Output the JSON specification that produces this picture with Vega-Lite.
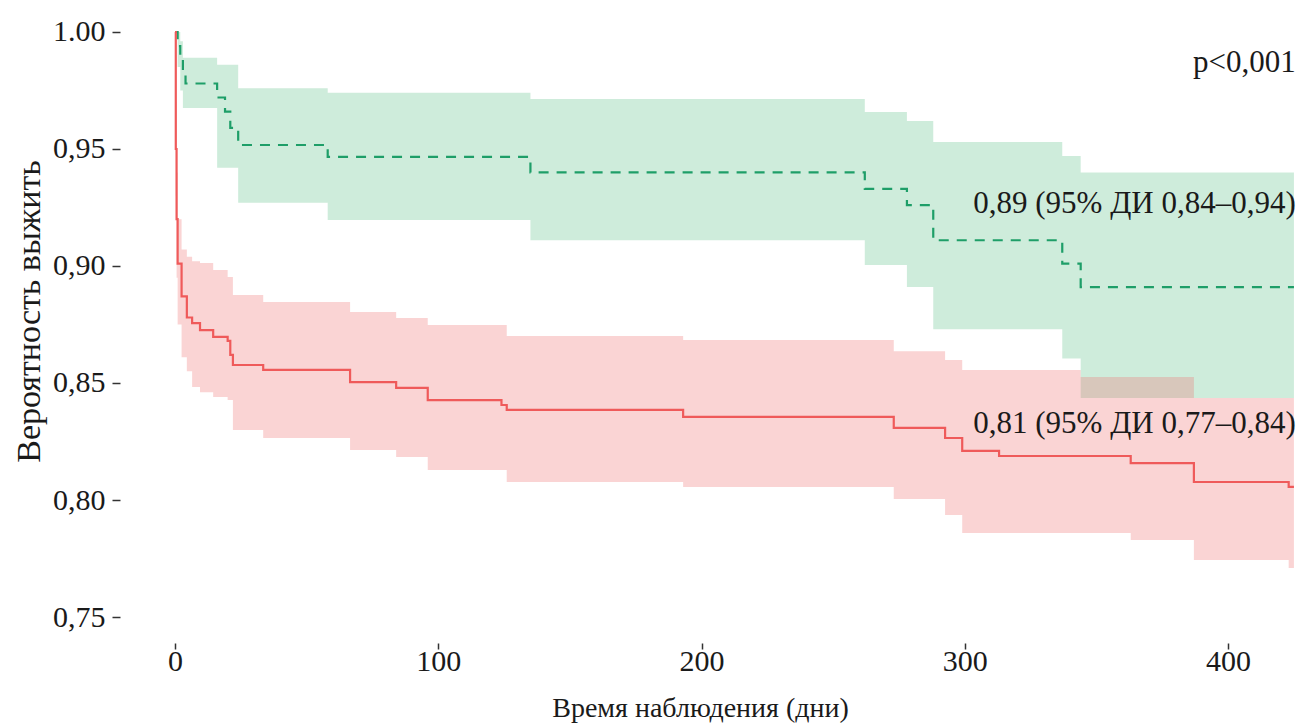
{
  "$schema": "https://vega.github.io/schema/vega-lite/v6.json",
  "width": 1180,
  "height": 623,
  "autosize": {"type": "none"},
  "padding": {"left": 120, "top": 20, "right": 0, "bottom": 81},
  "background": "white",
  "config": {
    "view": {"stroke": null},
    "font": "Liberation Serif, Times New Roman, DejaVu Serif, serif",
    "axis": {"grid": false, "domain": false, "labelFont": "Liberation Serif, Times New Roman, DejaVu Serif, serif", "titleFont": "Liberation Serif, Times New Roman, DejaVu Serif, serif", "labelColor": "#1a1a1a", "titleColor": "#1a1a1a", "tickColor": "#333333", "titleFontWeight": "normal", "labelFontSize": 30, "tickWidth": 1.5},
    "axisX": {"tickSize": 6, "labelPadding": -3, "titleFontSize": 28, "titleX": 580, "titleY": 73, "titleBaseline": "alphabetic", "titleAlign": "center"},
    "axisY": {"tickSize": 8, "labelPadding": 7, "titleFontSize": 34, "titleX": -74, "titleY": 291, "titleAngle": -90, "titleAlign": "center", "titleBaseline": "bottom"}
  },
  "datasets": {
    "green": [
      {"t": 0, "s": 1.0, "lo": 1.0, "hi": 1.0},
      {"t": 1, "s": 0.994, "lo": 0.985, "hi": 1.0},
      {"t": 2, "s": 0.988, "lo": 0.975, "hi": 0.996},
      {"t": 3, "s": 0.983, "lo": 0.9675, "hi": 0.989},
      {"t": 4, "s": 0.978, "lo": 0.9675, "hi": 0.989},
      {"t": 16, "s": 0.972, "lo": 0.942, "hi": 0.986},
      {"t": 19, "s": 0.966, "lo": 0.942, "hi": 0.986},
      {"t": 21, "s": 0.959, "lo": 0.942, "hi": 0.986},
      {"t": 24, "s": 0.9517, "lo": 0.927, "hi": 0.976},
      {"t": 58, "s": 0.9466, "lo": 0.9197, "hi": 0.974},
      {"t": 135, "s": 0.94, "lo": 0.911, "hi": 0.9714},
      {"t": 262, "s": 0.933, "lo": 0.9004, "hi": 0.9658},
      {"t": 278, "s": 0.926, "lo": 0.891, "hi": 0.962},
      {"t": 288, "s": 0.911, "lo": 0.873, "hi": 0.953},
      {"t": 337, "s": 0.901, "lo": 0.8605, "hi": 0.947},
      {"t": 344, "s": 0.891, "lo": 0.8436, "hi": 0.94},
      {"t": 425, "s": 0.891, "lo": 0.8436, "hi": 0.94}
    ],
    "red": [
      {"t": 0, "s": 1.0, "lo": 1.0, "hi": 1.0},
      {"t": 0.3, "s": 0.95, "lo": 0.93, "hi": 0.97},
      {"t": 0.6, "s": 0.92, "lo": 0.895, "hi": 0.94},
      {"t": 1, "s": 0.901, "lo": 0.875, "hi": 0.92},
      {"t": 2.5, "s": 0.887, "lo": 0.861, "hi": 0.907},
      {"t": 4.5, "s": 0.878, "lo": 0.855, "hi": 0.904},
      {"t": 6.5, "s": 0.8756, "lo": 0.8483, "hi": 0.902},
      {"t": 9.5, "s": 0.8726, "lo": 0.846, "hi": 0.9013},
      {"t": 14.5, "s": 0.8697, "lo": 0.844, "hi": 0.8983},
      {"t": 20, "s": 0.868, "lo": 0.8427, "hi": 0.8953},
      {"t": 21, "s": 0.862, "lo": 0.8427, "hi": 0.8953},
      {"t": 22, "s": 0.8577, "lo": 0.8299, "hi": 0.8876},
      {"t": 33.5, "s": 0.8556, "lo": 0.8265, "hi": 0.8846},
      {"t": 66.5, "s": 0.8504, "lo": 0.8214, "hi": 0.8803},
      {"t": 84, "s": 0.8479, "lo": 0.8184, "hi": 0.8778},
      {"t": 96, "s": 0.8427, "lo": 0.8128, "hi": 0.8748},
      {"t": 124, "s": 0.8406, "lo": 0.8128, "hi": 0.8748},
      {"t": 126, "s": 0.8385, "lo": 0.8077, "hi": 0.8701},
      {"t": 193, "s": 0.8355, "lo": 0.8056, "hi": 0.8684},
      {"t": 273, "s": 0.8308, "lo": 0.8004, "hi": 0.8636},
      {"t": 292.5, "s": 0.8265, "lo": 0.7936, "hi": 0.8598},
      {"t": 299, "s": 0.821, "lo": 0.7859, "hi": 0.8556},
      {"t": 313, "s": 0.8188, "lo": 0.7859, "hi": 0.8556},
      {"t": 344, "s": 0.8188, "lo": 0.7859, "hi": 0.8526},
      {"t": 363, "s": 0.8158, "lo": 0.7829, "hi": 0.8526},
      {"t": 387, "s": 0.8077, "lo": 0.7744, "hi": 0.8436},
      {"t": 423, "s": 0.8056, "lo": 0.7709, "hi": 0.8436},
      {"t": 425, "s": 0.8056, "lo": 0.7709, "hi": 0.8436}
    ],
    "notes": [
      {"t": 425.7, "v": 0.9829, "label": "p<0,001"},
      {"t": 425.7, "v": 0.92265, "label": "0,89 (95% ДИ 0,84–0,94)"},
      {"t": 425.7, "v": 0.82863, "label": "0,81 (95% ДИ 0,77–0,84)"}
    ]
  },
  "layer": [
    {
      "data": {"name": "green"},
      "mark": {"type": "area", "interpolate": "step-after", "color": "#5cbf88", "opacity": 0.3},
      "encoding": {
        "x": {"field": "t", "type": "quantitative", "scale": {"domain": [-20.89, 427.3], "zero": false, "nice": false},
          "axis": {"values": [0, 100, 200, 300, 400], "format": "d", "title": "Время наблюдения (дни)"}},
        "y": {"field": "lo", "type": "quantitative", "scale": {"domain": [0.738889, 1.005128], "zero": false, "nice": false},
          "axis": {"values": [0.75, 0.8, 0.85, 0.9, 0.95, 1.0], "labelExpr": "datum.value == 1 ? '1.00' : replace(format(datum.value, '.2f'), '.', ',')", "title": "Вероятность выжить"}},
        "y2": {"field": "hi"}
      }
    },
    {
      "data": {"name": "red"},
      "mark": {"type": "area", "interpolate": "step-after", "color": "#f07070", "opacity": 0.3},
      "encoding": {
        "x": {"field": "t", "type": "quantitative", "axis": {"values": [0, 100, 200, 300, 400], "format": "d", "title": "Время наблюдения (дни)"}},
        "y": {"field": "lo", "type": "quantitative", "axis": {"values": [0.75, 0.8, 0.85, 0.9, 0.95, 1.0], "labelExpr": "datum.value == 1 ? '1.00' : replace(format(datum.value, '.2f'), '.', ',')", "title": "Вероятность выжить"}},
        "y2": {"field": "hi"}
      }
    },
    {
      "data": {"name": "green"},
      "mark": {"type": "line", "interpolate": "step-after", "color": "#1e9e68", "strokeWidth": 2.2, "strokeDash": [10, 8]},
      "encoding": {
        "x": {"field": "t", "type": "quantitative", "axis": {"values": [0, 100, 200, 300, 400], "format": "d", "title": "Время наблюдения (дни)"}},
        "y": {"field": "s", "type": "quantitative", "axis": {"values": [0.75, 0.8, 0.85, 0.9, 0.95, 1.0], "labelExpr": "datum.value == 1 ? '1.00' : replace(format(datum.value, '.2f'), '.', ',')", "title": "Вероятность выжить"}}
      }
    },
    {
      "data": {"name": "red"},
      "mark": {"type": "line", "interpolate": "step-after", "color": "#ef5a5a", "strokeWidth": 2.2},
      "encoding": {
        "x": {"field": "t", "type": "quantitative", "axis": {"values": [0, 100, 200, 300, 400], "format": "d", "title": "Время наблюдения (дни)"}},
        "y": {"field": "s", "type": "quantitative", "axis": {"values": [0.75, 0.8, 0.85, 0.9, 0.95, 1.0], "labelExpr": "datum.value == 1 ? '1.00' : replace(format(datum.value, '.2f'), '.', ',')", "title": "Вероятность выжить"}}
      }
    },
    {
      "data": {"name": "notes"},
      "mark": {"type": "text", "align": "right", "baseline": "alphabetic", "fontSize": 31, "font": "Liberation Serif, Times New Roman, DejaVu Serif, serif", "color": "#1a1a1a"},
      "encoding": {
        "x": {"field": "t", "type": "quantitative", "axis": {"values": [0, 100, 200, 300, 400], "format": "d", "title": "Время наблюдения (дни)"}},
        "y": {"field": "v", "type": "quantitative", "axis": {"values": [0.75, 0.8, 0.85, 0.9, 0.95, 1.0], "labelExpr": "datum.value == 1 ? '1.00' : replace(format(datum.value, '.2f'), '.', ',')", "title": "Вероятность выжить"}},
        "text": {"field": "label"}
      }
    }
  ]
}
